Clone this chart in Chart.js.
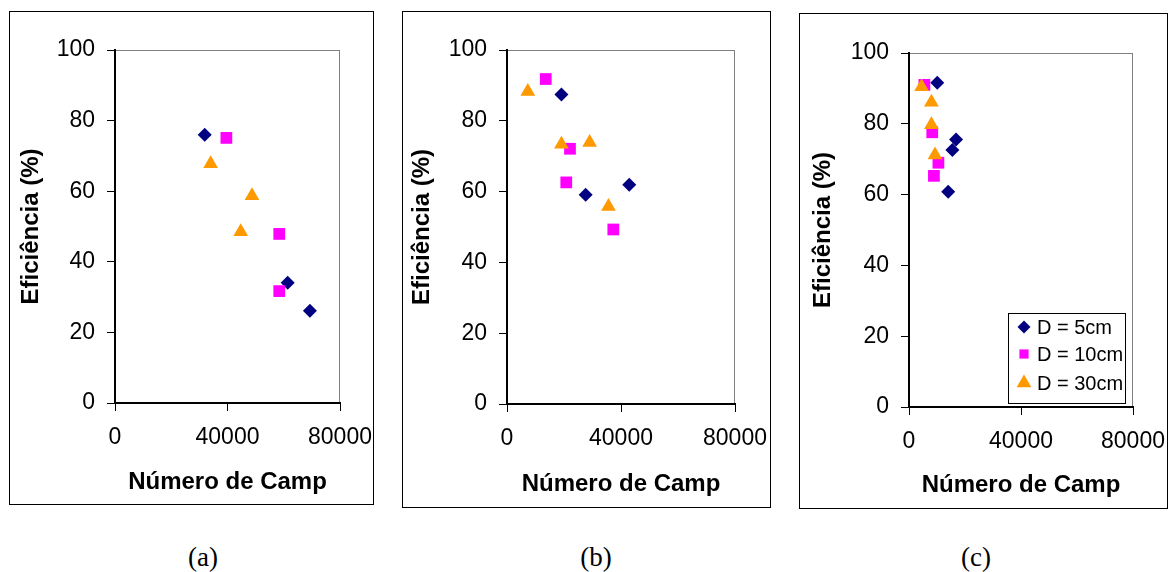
<!DOCTYPE html>
<html>
<head>
<meta charset="utf-8">
<script src="https://cdn.jsdelivr.net/npm/chart.js@4.4.1/dist/chart.umd.min.js"></script>
<style>
  body { margin: 0; background: #fff; width: 1168px; height: 572px; position: relative; overflow: hidden; }
  .panel { position: absolute; border: 1px solid #000; box-sizing: border-box; }
  .panel canvas { position: absolute; left: -1px; top: -1px; }
  .cap { position: absolute; font-family: "Liberation Serif", "Times New Roman", serif; font-size: 27px;
         color: #000; transform: translate(-50%, -50%); white-space: nowrap; }
</style>
</head>
<body>
<div class="panel" style="left:9px;top:11px;width:365px;height:494px"><canvas id="ca"></canvas></div>
<div class="panel" style="left:402px;top:11px;width:369px;height:497px"><canvas id="cb"></canvas></div>
<div class="panel" style="left:799px;top:13px;width:369px;height:496px"><canvas id="cc"></canvas></div>
<div class="cap" style="left:203px;top:557px">(a)</div>
<div class="cap" style="left:596px;top:557px">(b)</div>
<div class="cap" style="left:976px;top:557px">(c)</div>

<script>
const seriesNames = ['D = 5cm', 'D = 10cm', 'D = 30cm'];
const xTicks = [0, 40000, 80000];
const yTicks = [0, 20, 40, 60, 80, 100];

// (a)
const a5x = [31900, 61400, 69300];
const a5y = [76.0, 34.1, 26.1];
const a10x = [39600, 58400, 58400];
const a10y = [75.1, 47.9, 31.7];
const a30x = [34000, 48700, 44700];
const a30y = [67.8, 58.7, 48.5];

// (b)
const b5x = [19100, 27600, 42900];
const b5y = [87.4, 59.1, 61.9];
const b10x = [13600, 22100, 20800, 37300];
const b10y = [91.8, 72.1, 62.6, 49.3];
const b30x = [7300, 19100, 29000, 35600];
const b30y = [88.3, 73.4, 73.9, 55.8];

// (c)
const c5x = [10100, 16800, 15500, 14000];
const c5y = [91.6, 75.6, 72.6, 60.8];
const c10x = [5500, 8300, 10500, 8900];
const c10y = [91.0, 77.6, 69.0, 65.3];
const c30x = [4500, 8000, 8000, 9300];
const c30y = [90.5, 86.1, 79.7, 71.2];

const FONT = '"Liberation Sans", Arial, sans-serif';
Chart.defaults.font.family = FONT;
Chart.defaults.color = '#000';

const styles = [
  { pointStyle: 'rectRot', radius: 7, legendRadius: 6.5, color: '#000080', order: 2 },
  { pointStyle: 'rect', radius: 8.3, legendRadius: 6.5, color: '#FF00FF', order: 1 },
  { pointStyle: 'triangle', radius: 8.5, legendRadius: 8.5, color: '#FF9900', order: 0 }
];

function pts(xs, ys) {
  return xs.map((x, i) => ({ x: x, y: ys[i] }));
}

// gray frame round the plot area, axes are drawn over it
const plotFrame = {
  id: 'plotFrame',
  beforeDraw(chart) {
    const a = chart.chartArea, ctx = chart.ctx;
    ctx.save();
    ctx.strokeStyle = '#808080';
    ctx.lineWidth = 1;
    ctx.strokeRect(a.left + 0.5, a.top + 0.5, a.right - a.left - 1, a.bottom - a.top);
    ctx.restore();
  }
};

// boxed legend inside the plot, as in panel (c)
const boxLegend = {
  id: 'boxLegend',
  afterDraw(chart, args, o) {
    if (!o.show) return;
    const ctx = chart.ctx;
    ctx.save();
    ctx.fillStyle = '#fff';
    ctx.fillRect(o.x, o.y, o.w, o.h);
    ctx.strokeStyle = '#000';
    ctx.lineWidth = 1;
    ctx.strokeRect(o.x + 0.5, o.y + 0.5, o.w, o.h);
    chart.data.datasets.forEach((ds, i) => {
      const cy = o.y + o.rows[i];
      ctx.fillStyle = ds.backgroundColor;
      Chart.helpers.drawPoint(ctx, { pointStyle: ds.pointStyle, radius: ds.legendRadius, borderWidth: 0, rotation: 0 }, o.x + o.mx, cy);
      ctx.fillStyle = '#000';
      ctx.font = '20px ' + FONT;
      ctx.textBaseline = 'middle';
      ctx.textAlign = 'left';
      ctx.fillText(ds.label, o.x + o.tx, cy + 1);
    });
    ctx.restore();
  }
};

function makePanel(id, g, series, legend) {
  const cv = document.getElementById(id);
  cv.width = g.w;
  cv.height = g.h;
  const datasets = series.map((s, i) => ({
    label: seriesNames[i],
    data: pts(s[0], s[1]),
    pointStyle: styles[i].pointStyle,
    pointRadius: styles[i].radius,
    legendRadius: styles[i].legendRadius,
    backgroundColor: styles[i].color,
    borderColor: styles[i].color,
    borderWidth: 0,
    order: styles[i].order
  }));
  return new Chart(cv, {
    type: 'scatter',
    data: { datasets: datasets },
    plugins: [plotFrame, boxLegend],
    options: {
      responsive: false,
      animation: false,
      events: [],
      layout: { padding: { left: 0, top: g.top, right: g.w - g.right, bottom: 0 } },
      plugins: {
        legend: { display: false },
        tooltip: { enabled: false },
        boxLegend: legend || { show: false }
      },
      scales: {
        x: {
          type: 'linear', min: 0, max: 80000,
          afterBuildTicks: s => { s.ticks = xTicks.map(v => ({ value: v })); },
          ticks: { color: '#000', font: { size: 23 }, padding: 13, maxRotation: 0, autoSkip: false, callback: v => String(v) },
          grid: { drawOnChartArea: false, drawTicks: true, tickLength: 8, color: '#000', lineWidth: 1 },
          border: { color: '#000', width: 2 },
          title: { display: true, text: 'Número de Camp', color: '#000', font: { size: 24, weight: 'bold' }, padding: { top: 0, bottom: g.xtb } },
          afterFit: s => {
            s.height = g.h - g.bottom;
            s.paddingLeft = 0;
            s.paddingRight = 0;
          }
        },
        y: {
          type: 'linear', min: 0, max: 100,
          afterBuildTicks: s => { s.ticks = yTicks.map(v => ({ value: v })); },
          ticks: { color: '#000', font: { size: 23 }, padding: 12, callback: v => String(v) },
          grid: { drawOnChartArea: false, drawTicks: true, tickLength: 8, color: '#000', lineWidth: 1 },
          border: { color: '#000', width: 2 },
          title: { display: true, text: 'Eficiência (%)', color: '#000', font: { size: 24, weight: 'bold' }, padding: { top: g.ytt, bottom: 0 } },
          afterFit: s => {
            s.width = g.left;
            s.paddingTop = 0;
            s.paddingBottom = 0;
          }
        }
      }
    }
  });
}

makePanel('ca', { w: 365, h: 494, left: 106, top: 39, right: 331, bottom: 392, ytt: 8, xtb: 8 },
  [[a5x, a5y], [a10x, a10y], [a30x, a30y]]);
makePanel('cb', { w: 369, h: 497, left: 105, top: 39, right: 333, bottom: 393, ytt: 6, xtb: 9.6 },
  [[b5x, b5y], [b10x, b10y], [b30x, b30y]]);
makePanel('cc', { w: 369, h: 496, left: 110, top: 40, right: 334, bottom: 394, ytt: 10, xtb: 9 },
  [[c5x, c5y], [c10x, c10y], [c30x, c30y]],
  { show: true, x: 209, y: 300, w: 117, h: 90, mx: 16, tx: 29, rows: [14, 41, 70] });
</script>
</body>
</html>
